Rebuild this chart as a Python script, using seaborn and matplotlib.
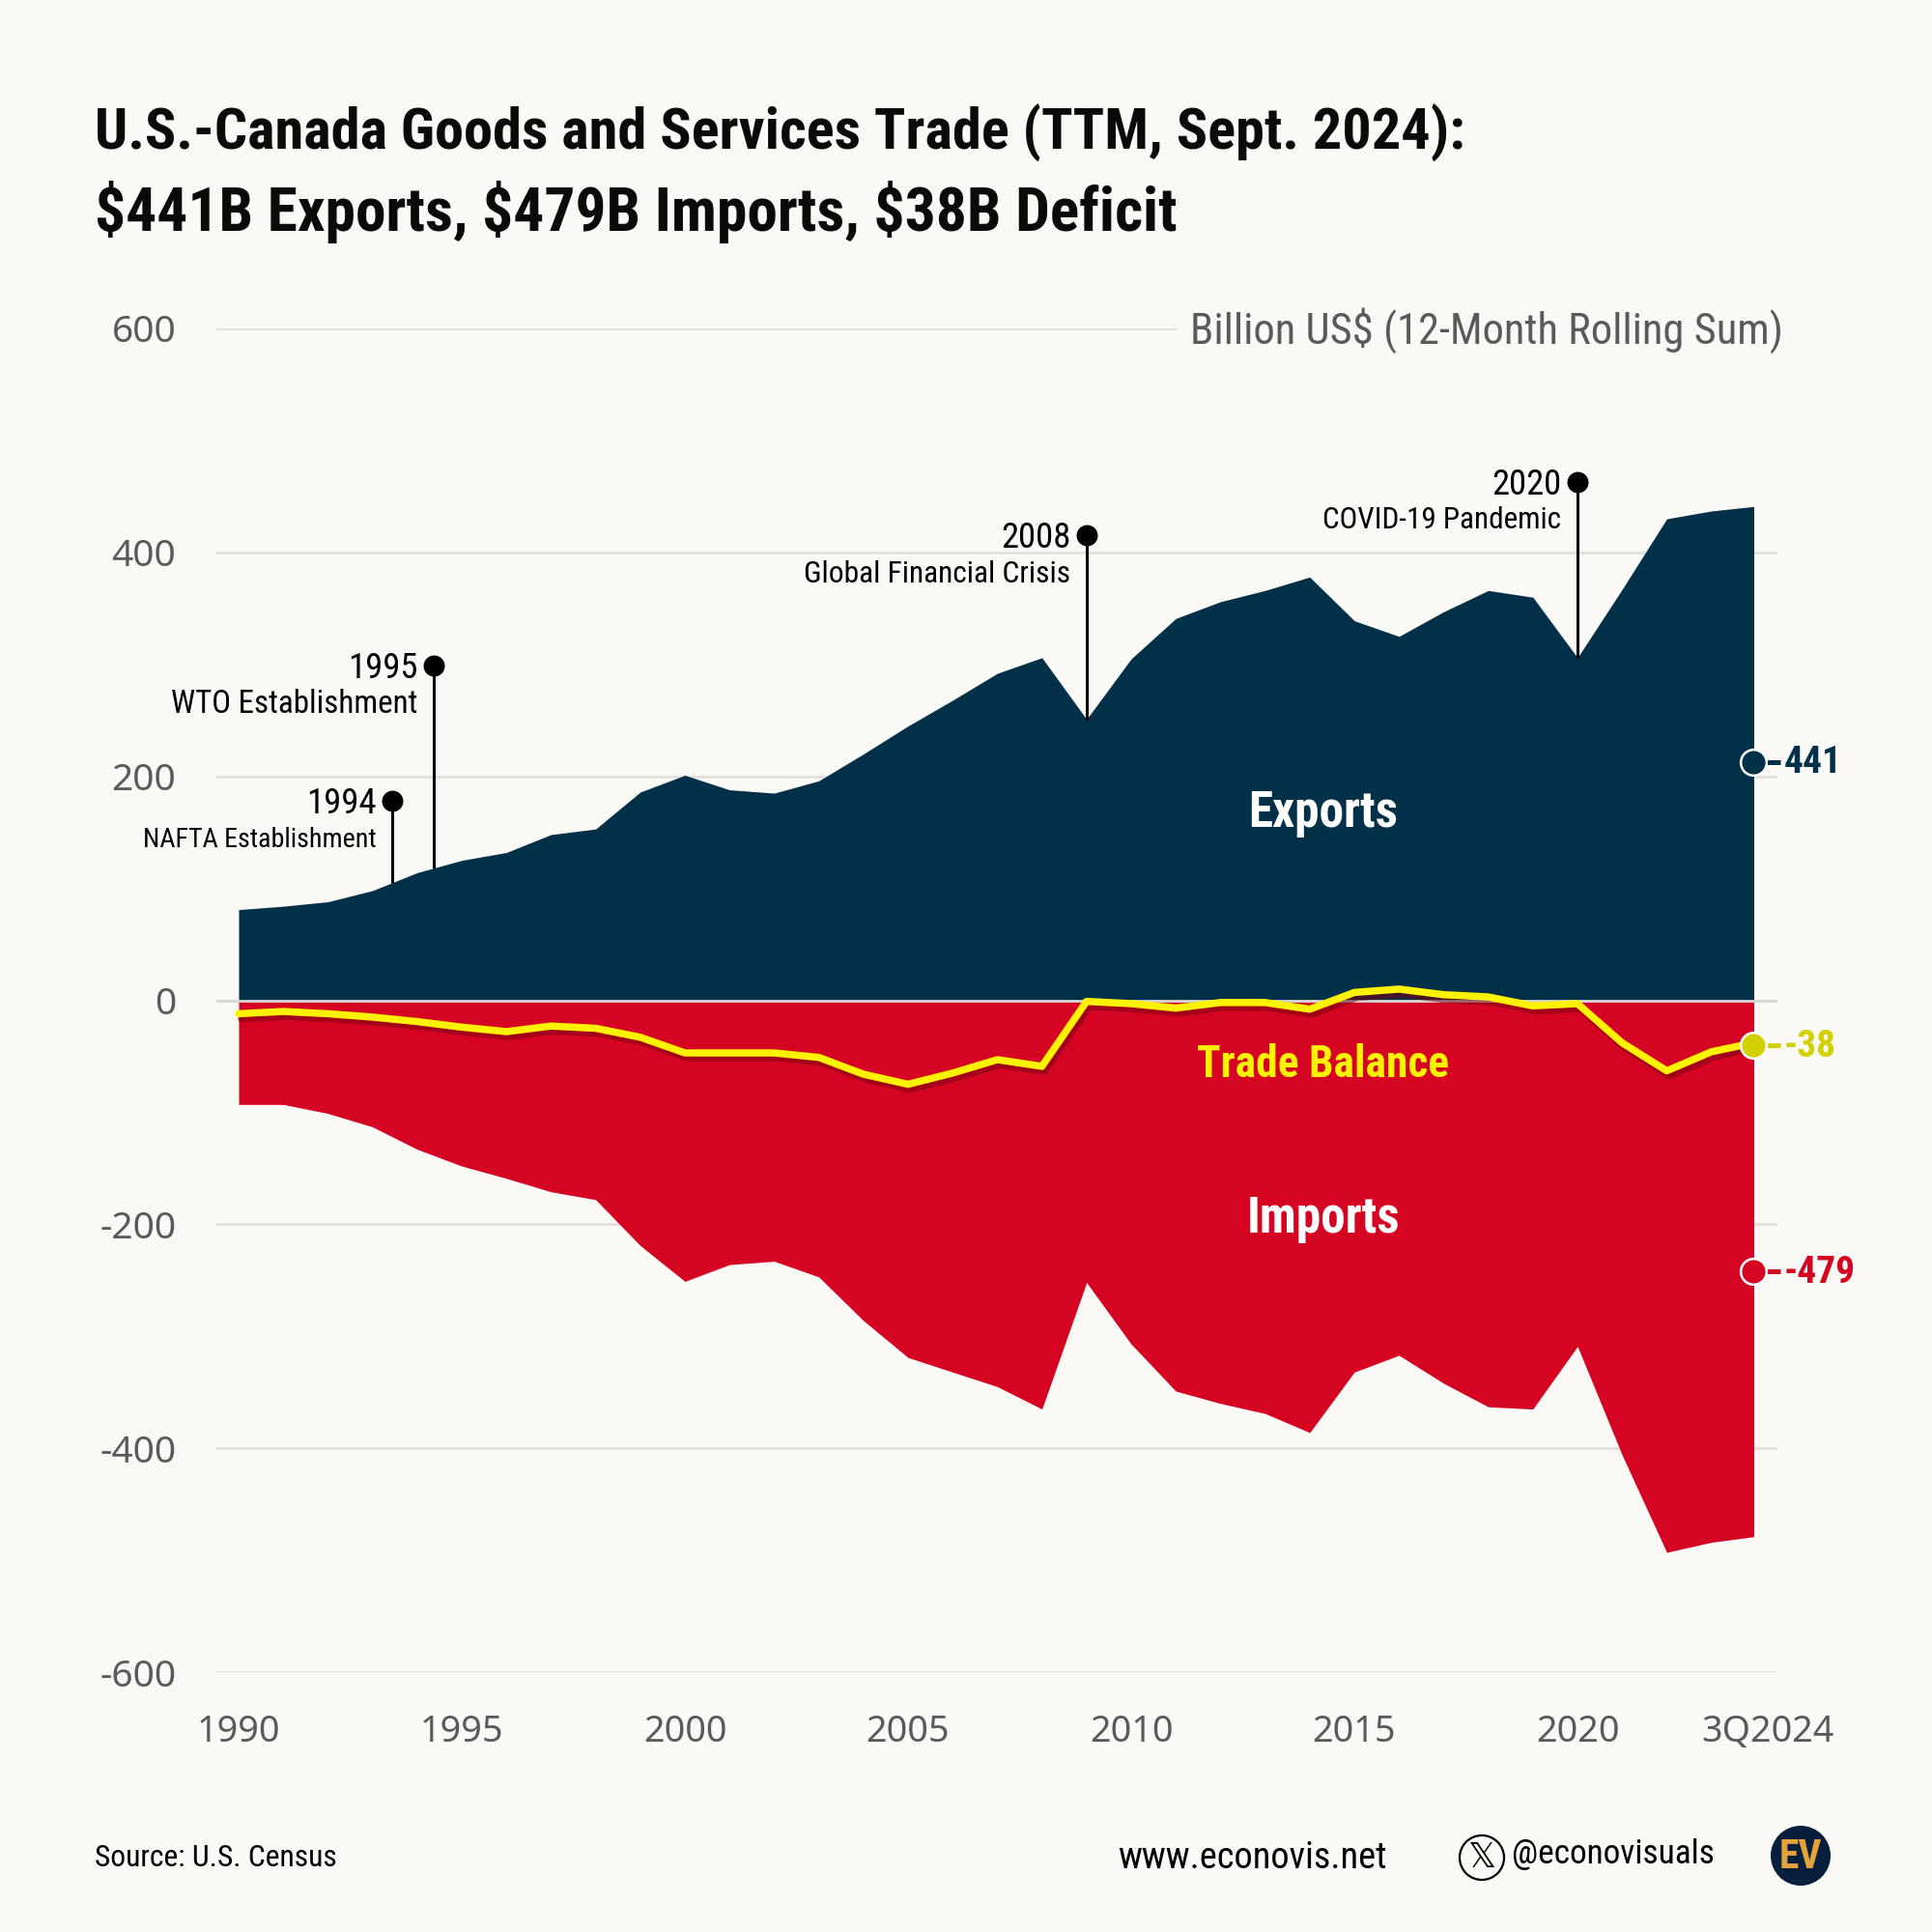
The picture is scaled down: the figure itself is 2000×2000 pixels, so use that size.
import matplotlib
matplotlib.use('Agg')
import matplotlib.pyplot as plt
import matplotlib.patheffects as pe
from matplotlib.patches import Circle
from matplotlib.transforms import ScaledTranslation
import matplotlib.font_manager as fm
import numpy as np
import pandas as pd
import seaborn as sns

years = list(range(1990, 2024)) + [2023.95]
exports = [81, 84, 88, 98, 114, 125, 132, 148, 153, 186, 201, 188, 185, 196, 220, 245, 268, 292, 306,
           251, 305, 341, 356, 366, 378, 339, 325, 347, 366, 360, 306, 367, 430, 437, 441]
imports = [-93, -93, -101, -113, -133, -148, -159, -171, -178, -219, -251, -236, -233, -247, -286, -319, -332, -345, -365,
           -252, -307, -349, -360, -369, -386, -332, -317, -342, -363, -365, -309, -406, -493, -484, -479]
balance = [-12, -10, -12, -15, -19, -24, -28, -23, -25, -33, -47, -47, -47, -51, -66, -75, -65, -53, -59,
           -1, -3, -7, -2, -2, -8, 7, 10, 5, 3, -5, -3, -38, -63, -46, -38]
x_ticks = [1990, 1995, 2000, 2005, 2010, 2015, 2020, 2023.95]
x_tick_labels = ['1990', '1995', '2000', '2005', '2010', '2015', '2020', '3Q2024']
y_ticks = [-600, -400, -200, 0, 200, 400, 600]
event_x = [1993.44, 1994.37, 2009, 2020]
event_top = [178, 299, 415, 463]
event_year = ['1994', '1995', '2008', '2020']
event_name = ['NAFTA Establishment', 'WTO Establishment', 'Global Financial Crisis', 'COVID-19 Pandemic']
event_size = [10.1, 11.9, 11.35, 11.2]

BG = '#FAF9F5'
NAVY = '#033049'
RED = '#D60423'
YEL = '#FFF200'
OLIVE = '#D2D000'

sns.set_theme(style='white', rc={'figure.facecolor': BG, 'axes.facecolor': BG, 'savefig.facecolor': BG})
names = {f.name for f in fm.fontManager.ttflist}
def pick(*c):
    return [n for n in c if n in names] + ['DejaVu Sans']
COND = pick('Roboto Condensed', 'Liberation Sans Narrow', 'Roboto')
BODY = pick('Noto Sans', 'Roboto')
plt.rcParams['font.family'] = BODY

W = H = 2000
PER_YEAR = 46.2
fig = plt.figure(figsize=(10, 10), dpi=200)
ax = fig.add_axes([224 / W, 1 - 1731 / H, (1840 - 224) / W, (1731 - 340) / H])
ax.set_xlim(1990 - 23 / PER_YEAR, 1990 + (1840 - 247) / PER_YEAR)
ax.set_ylim(-600, 600)

df = pd.DataFrame({'year': years, 'exports': exports, 'imports': imports, 'balance': balance})
ax.fill_between(df.year, 0, df.exports, color=NAVY, lw=0, zorder=2)
ax.fill_between(df.year, 0, df.imports, color=RED, lw=0, zorder=2)
ax.axhline(0, color='#D8D8D4', lw=1.0, zorder=3)
sns.lineplot(data=df, x='year', y='balance', ax=ax, color=YEL, lw=2.7, zorder=5, legend=False, errorbar=None,
             path_effects=[pe.SimpleLineShadow(offset=(1.0, -1.8), shadow_color='#7a0012', alpha=0.55), pe.Normal()])
ax.set_xlabel('')
ax.set_ylabel('')

ax.set_yticks(y_ticks)
ax.set_yticklabels([str(v) for v in y_ticks])
ax.set_xticks(x_ticks)
ax.set_xticklabels(x_tick_labels)
ax.tick_params(axis='y', length=0, pad=15, labelsize=14, labelcolor='#5A5A5A')
ax.tick_params(axis='x', length=0, pad=15.4, labelsize=13.6, labelcolor='#5A5A5A')
last = ax.get_xticklabels()[-1]
last.set_transform(last.get_transform() + ScaledTranslation(14 / 200, 0, fig.dpi_scale_trans))
ax.grid(axis='y', color='#DEDDD8', lw=0.9, zorder=0)
ax.grid(axis='x', visible=False)
sns.despine(ax=ax, left=True, bottom=True, top=True, right=True)

# unit label
ax.annotate('Billion US$ (12-Month Rolling Sum)', (1, 600), xycoords=ax.get_yaxis_transform(),
            xytext=(2, -0.8), textcoords='offset points', ha='right', va='center',
            fontsize=16, color='#5A5A5A', family=COND, zorder=4, annotation_clip=False,
            bbox=dict(facecolor=BG, edgecolor='none', pad=5))

# events
for xe, ytop, yr, name, fs in zip(event_x, event_top, event_year, event_name, event_size):
    ybase = np.interp(xe, years, exports)
    ax.plot([xe, xe], [ybase, ytop], color='black', lw=1.1, zorder=3, solid_capstyle='butt')
    ax.plot([xe], [ytop], 'o', color='black', ms=7.9, zorder=4, mew=0)
    ax.annotate(yr, (xe, ytop), xytext=(-6, -1), textcoords='offset points', ha='right', va='center',
                fontsize=13.2, fontweight='normal', color='black', family=COND)
    ax.annotate(name, (xe, ytop), xytext=(-6, -14.4), textcoords='offset points', ha='right', va='center',
                fontsize=fs, color='black', family=COND)

# area labels
for txt, yv, col, fs in [('Exports', 167, 'white', 18.4), ('Trade Balance', -57, YEL, 16.4), ('Imports', -195, 'white', 18.4)]:
    ax.text(2014.3, yv, txt, ha='center', va='center', fontsize=fs, fontweight='bold', color=col, family=COND, zorder=6)

# end markers
for yv, col, lab in [(213, NAVY, '441'), (-40, OLIVE, '-38'), (-242, RED, '-479')]:
    ax.plot([years[-1]], [yv], 'o', ms=9.6, color=col, mec='white', mew=0.9, zorder=7, clip_on=False)
    ax.plot([years[-1] + 0.3, years[-1] + 0.6], [yv, yv], color=col, lw=1.8, zorder=6, clip_on=False, solid_capstyle='butt')
    ax.annotate(lab, (years[-1] + 0.68, yv), xytext=(0, -0.5), textcoords='offset points', ha='left', va='center',
                fontsize=14.2, fontweight='bold', color=col, family=COND, annotation_clip=False)

# title and footer
fig.text(98 / W, 1 - 138 / H, 'U.S.-Canada Goods and Services Trade (TTM, Sept. 2024):', fontsize=21.7, fontweight='bold',
         family=COND, color='#0A0A0A', va='center', ha='left')
fig.text(98 / W, 1 - 220 / H, '$441B Exports, $479B Imports, $38B Deficit', fontsize=22.8, fontweight='bold',
         family=COND, color='#0A0A0A', va='center', ha='left')
fig.text(98 / W, 1 - 1923 / H, 'Source: U.S. Census', fontsize=11.4, color='black', va='center', ha='left', family=COND)
fig.text(1157 / W, 1 - 1923 / H, 'www.econovis.net', fontsize=13.8, color='black', va='center', ha='left', family=COND)
fig.text(1565 / W, 1 - 1920 / H, '@econovisuals', fontsize=12.7, color='black', va='center', ha='left', family=COND)

# X and EV badges
ov = fig.add_axes([0, 0, 1, 1], facecolor='none')
ov.set_xlim(0, W); ov.set_ylim(H, 0); ov.axis('off')
ov.add_patch(Circle((1534, 1923), 23, fc='none', ec='black', lw=0.8))
ov.text(1534, 1923, '𝕏', ha='center', va='center', fontsize=13, color='black', family='DejaVu Sans')
ov.add_patch(Circle((1864, 1921), 31, fc='#071F3C', ec='none'))
ov.text(1864, 1922, 'EV', ha='center', va='center', fontsize=15, fontweight='bold', color='#E3A33B', family=COND)

fig.savefig('out.png', dpi=200)
